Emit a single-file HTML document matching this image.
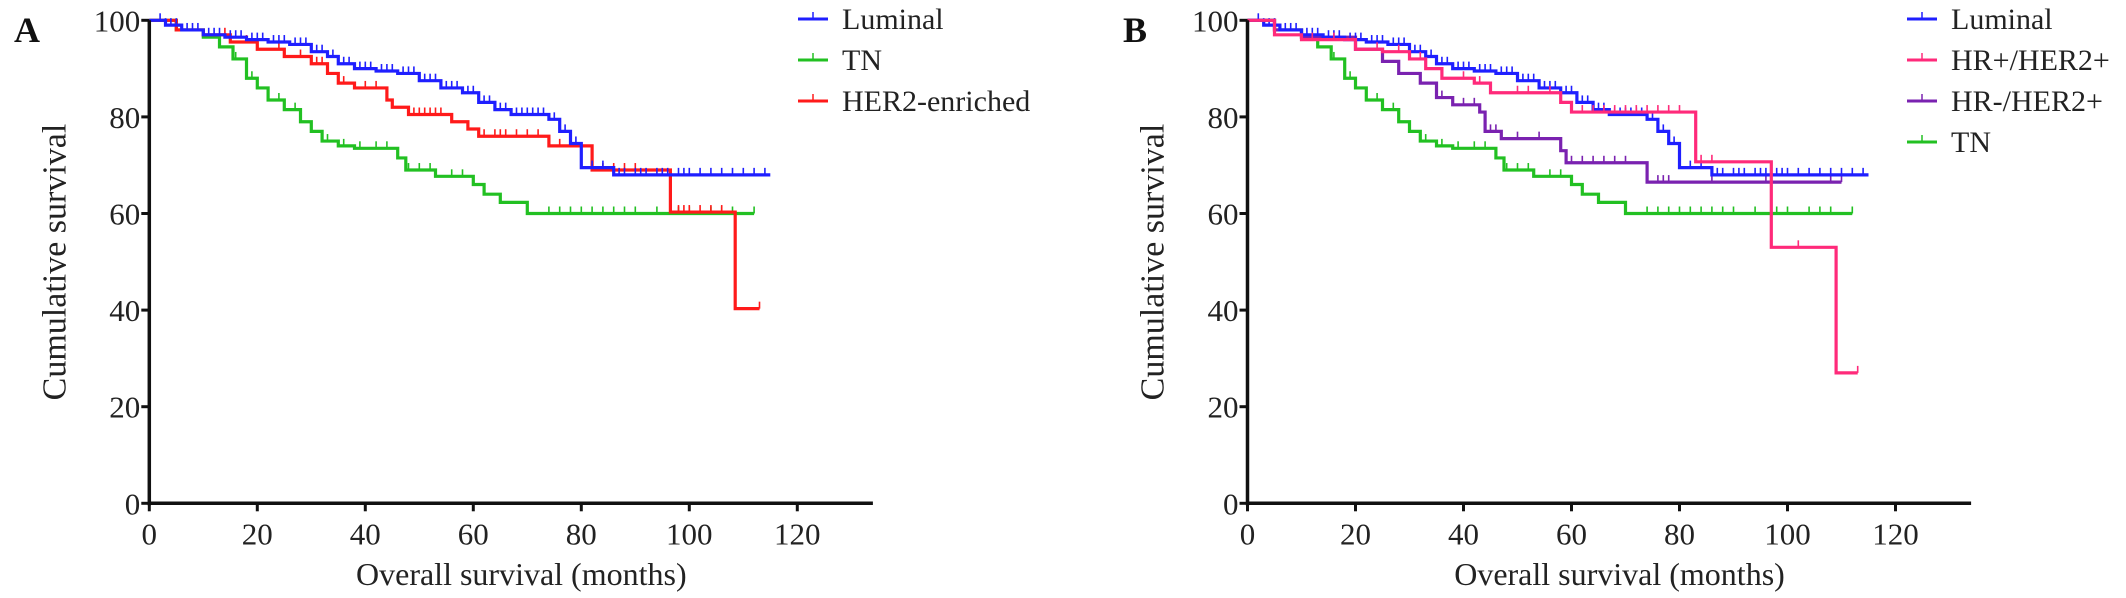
<!DOCTYPE html>
<html><head><meta charset="utf-8"><style>
html,body{margin:0;padding:0;background:#fff;}
svg{display:block;font-family:"Liberation Serif",serif;}
</style></head><body>
<svg id="fig" width="2126" height="598" viewBox="0 0 2126 598" xmlns="http://www.w3.org/2000/svg"></svg>
<script>
// ---- data ----
const xTicks = [0,20,40,60,80,100,120];
const yTicks = [0,20,40,60,80,100];
const lumT = [3,6,10,14,18,22,26,30,33,35,38,42,46,50,54,58,61,64,67,74,76,78,80,86];
const lumS = [99,98,97,96.5,96,95.5,95,93.5,92.5,91,90,89.5,89,87.5,86,85,83,81.5,80.5,79.5,77,74.5,69.5,68];
const lumEnd = 115;
const lumC = [2,3,4,5,7,8,9,11,12,13,15,16,17,19,20,21,23,24,25,27,28,29,31,32,34,36,37,39,40,41,43,44,45,47,48,49,51,52,53,55,56,57,59,60,62,63,65,66,68,69,70,71,72,73,75,77,79,82,84,86,87,88,90,91,92,94,95,96,98,99,100,102,104,106,108,110,112,114];
const tnT = [5,10,13,15.5,18,20,22,25,28,30,32,35,38,46,47.5,53,60,62,65,70];
const tnS = [98,96.5,94.5,92,88,86,83.5,81.5,79,77,75,74,73.5,71.5,69,67.7,66,64,62.3,60];
const tnEnd = 112;
const tnC = [16,19,24,27,30,33,36,39,42,44,48,50,52,56,58,62,74,76,78,80,82,84,86,88,90,94,98,100,104,106,108,112];
const herT = [5,10,15,20,25,30,33,35,38,44,45,48,56,59,61,74,82,96.5,108.5];
const herS = [98,97,95.5,94,92.5,91,89,87,86,83.5,82,80.5,79,77.5,76,74,69,60.3,40.3];
const herEnd = 113;
const herC = [14,18,20,24,28,31,32,36,40,42,44,49,50,51,52,53,54,62,64,65,66,68,70,72,76,78,84,86,88,90,98,99,100,102,104,106,113];
const hrpT = [5,10,20,25,30,33,36,42,45,58,60,83,97,109];
const hrpS = [97,96,94,93.5,92,90,88,87,85,83,81,70.7,53,27];
const hrpEnd = 113;
const hrpC = [12,16,24,28,32,40,43,50,52,56,62,64,66,68,70,72,74,76,78,80,84,86,102,113];
const hrnT = [5,10,20,25,28,32,35,38,43,44,47,58,59,74];
const hrnS = [98,96.5,94,91.5,89,87,84,82.5,81,77,75.5,73,70.5,66.5];
const hrnEnd = 110;
const hrnC = [36,40,42,45,46,50,54,60,62,64,66,68,70,76,77,78,86,96,108,110];

const svg = document.getElementById('fig');
const NS = 'http://www.w3.org/2000/svg';
function mk(tag, attrs, parent){ const e=document.createElementNS(NS,tag); for(const k in attrs) e.setAttribute(k,attrs[k]); (parent||svg).appendChild(e); return e; }

function panel(p){
  const g = mk('g',{});
  
  
  const xs = m => p.x0 + m*5.4;
  const ys = v => 503.3 - v*4.83;
  p.series.forEach(s=>{
    let d = 'M'+xs(0)+','+ys(100);
    for(let i=0;i<s.t.length;i++){ d += ' H'+xs(s.t[i])+' V'+ys(s.s[i]); }
    d += ' H'+xs(s.end);
    const path = mk('path',{d:d,fill:'none',stroke:s.color,'stroke-width':3.2},g);
    
    
    s.c.forEach(c=>{
      let v=100; for(let i=0;i<s.t.length;i++){ if(s.t[i]<=c) v=s.s[i]; }
      const tk = mk('line',{x1:xs(c),x2:xs(c),y1:ys(v),y2:ys(v)-7,stroke:s.color,'stroke-width':1.6},g);
      
      
    });
  });
  const ax = mk('line',{x1:xs(0),x2:xs(134),y1:ys(0),y2:ys(0),stroke:'#111','stroke-width':3.5},g);
   
  const ay = mk('line',{x1:xs(0),x2:xs(0),y1:ys(0)+2,y2:ys(100),stroke:'#111','stroke-width':3.5},g);
   
  xTicks.forEach(t=>{
    mk('line',{x1:xs(t),x2:xs(t),y1:ys(0),y2:ys(0)+8,stroke:'#111','stroke-width':3},g);
    const tx = mk('text',{x:xs(t),y:ys(0)+41,'text-anchor':'middle','font-size':31,fill:'#222'},g);
    tx.textContent = t;
     
  });
  yTicks.forEach(t=>{
    mk('line',{x1:xs(0)-8,x2:xs(0),y1:ys(t),y2:ys(t),stroke:'#111','stroke-width':3},g);
    const tx = mk('text',{x:xs(0)-9,y:ys(t)+11,'text-anchor':'end','font-size':31,fill:'#222'},g);
    tx.textContent = t;
     
  });
  const xt = mk('text',{x:xs(0)+372,y:585,'text-anchor':'middle','font-size':32,fill:'#222'},g);
  xt.textContent='Overall survival (months)';
   
  const yt = mk('text',{x:0,y:0,'text-anchor':'middle','font-size':34,fill:'#222',transform:'translate('+(xs(0)-84)+',262) rotate(-90)'},g);
  yt.textContent='Cumulative survival';
   
  const pl = mk('text',{x:p.lx,y:42,'font-size':36,'font-weight':'bold',fill:'#111'},g);
  pl.textContent=p.label;
   
  p.legend.forEach((s,i)=>{
    const y = 19 + i*41;
    const ln = mk('line',{x1:p.legX,x2:p.legX+30,y1:y,y2:y,stroke:s.color,'stroke-width':3},g);
     
    mk('line',{x1:p.legX+15,x2:p.legX+15,y1:y,y2:y-7,stroke:s.color,'stroke-width':1.5},g);
    const tx = mk('text',{x:p.legX+44,y:y+10,'font-size':30,fill:'#222'},g);
    tx.textContent = s.label;
     
  });
}
const LUM={key:'luminal',label:'Luminal',color:'#1f1fff',t:lumT,s:lumS,end:lumEnd,c:lumC};
const TN={key:'tn',label:'TN',color:'#22c022',t:tnT,s:tnS,end:tnEnd,c:tnC};
const HER={key:'her2-enriched',label:'HER2-enriched',color:'#ff1a1a',t:herT,s:herS,end:herEnd,c:herC};
const HRP={key:'hr-pos-her2-pos',label:'HR+/HER2+',color:'#ff2a7a',t:hrpT,s:hrpS,end:hrpEnd,c:hrpC};
const HRN={key:'hr-neg-her2-pos',label:'HR-/HER2+',color:'#7a22b0',t:hrnT,s:hrnS,end:hrnEnd,c:hrnC};
panel({name:'panel-a',label:'A',lx:14,x0:149.3,legX:798,series:[TN,HER,LUM],legend:[LUM,TN,HER]});
panel({name:'panel-b',label:'B',lx:1123,x0:1247.5,legX:1907,series:[TN,HRN,LUM,HRP],legend:[LUM,HRP,HRN,TN]});
</script>
</body></html>
